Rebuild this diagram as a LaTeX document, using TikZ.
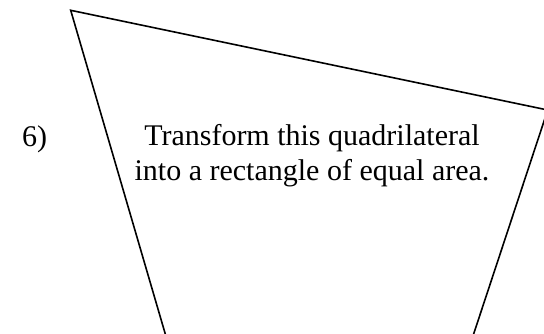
\documentclass[tikz,border=0pt]{standalone}
\usepackage{fontspec}
\setmainfont{Liberation Serif}
\begin{document}
\begin{tikzpicture}[x=1pt,y=-1pt,
  edge/.style={line width=1.6pt,line join=miter},
  label/.style={font=\fontsize{30}{34.5}\selectfont,align=center,inner sep=0pt}]
\useasboundingbox (0,0) rectangle (544,333);
\clip (0,0) rectangle (544,333);
\coordinate (A) at (70.7,10.3);
\coordinate (B) at (547.7,110);
\coordinate (C) at (470,345);
\coordinate (D) at (168.5,345);
\draw[edge] (D) -- (A) -- (B) -- (C);
\node[label,anchor=base west] (num) at (22,146) {6)};
\node[label,anchor=base] (txt) at (312,180) {Transform this quadrilateral\\into a rectangle of equal area.};
\end{tikzpicture}
\end{document}
